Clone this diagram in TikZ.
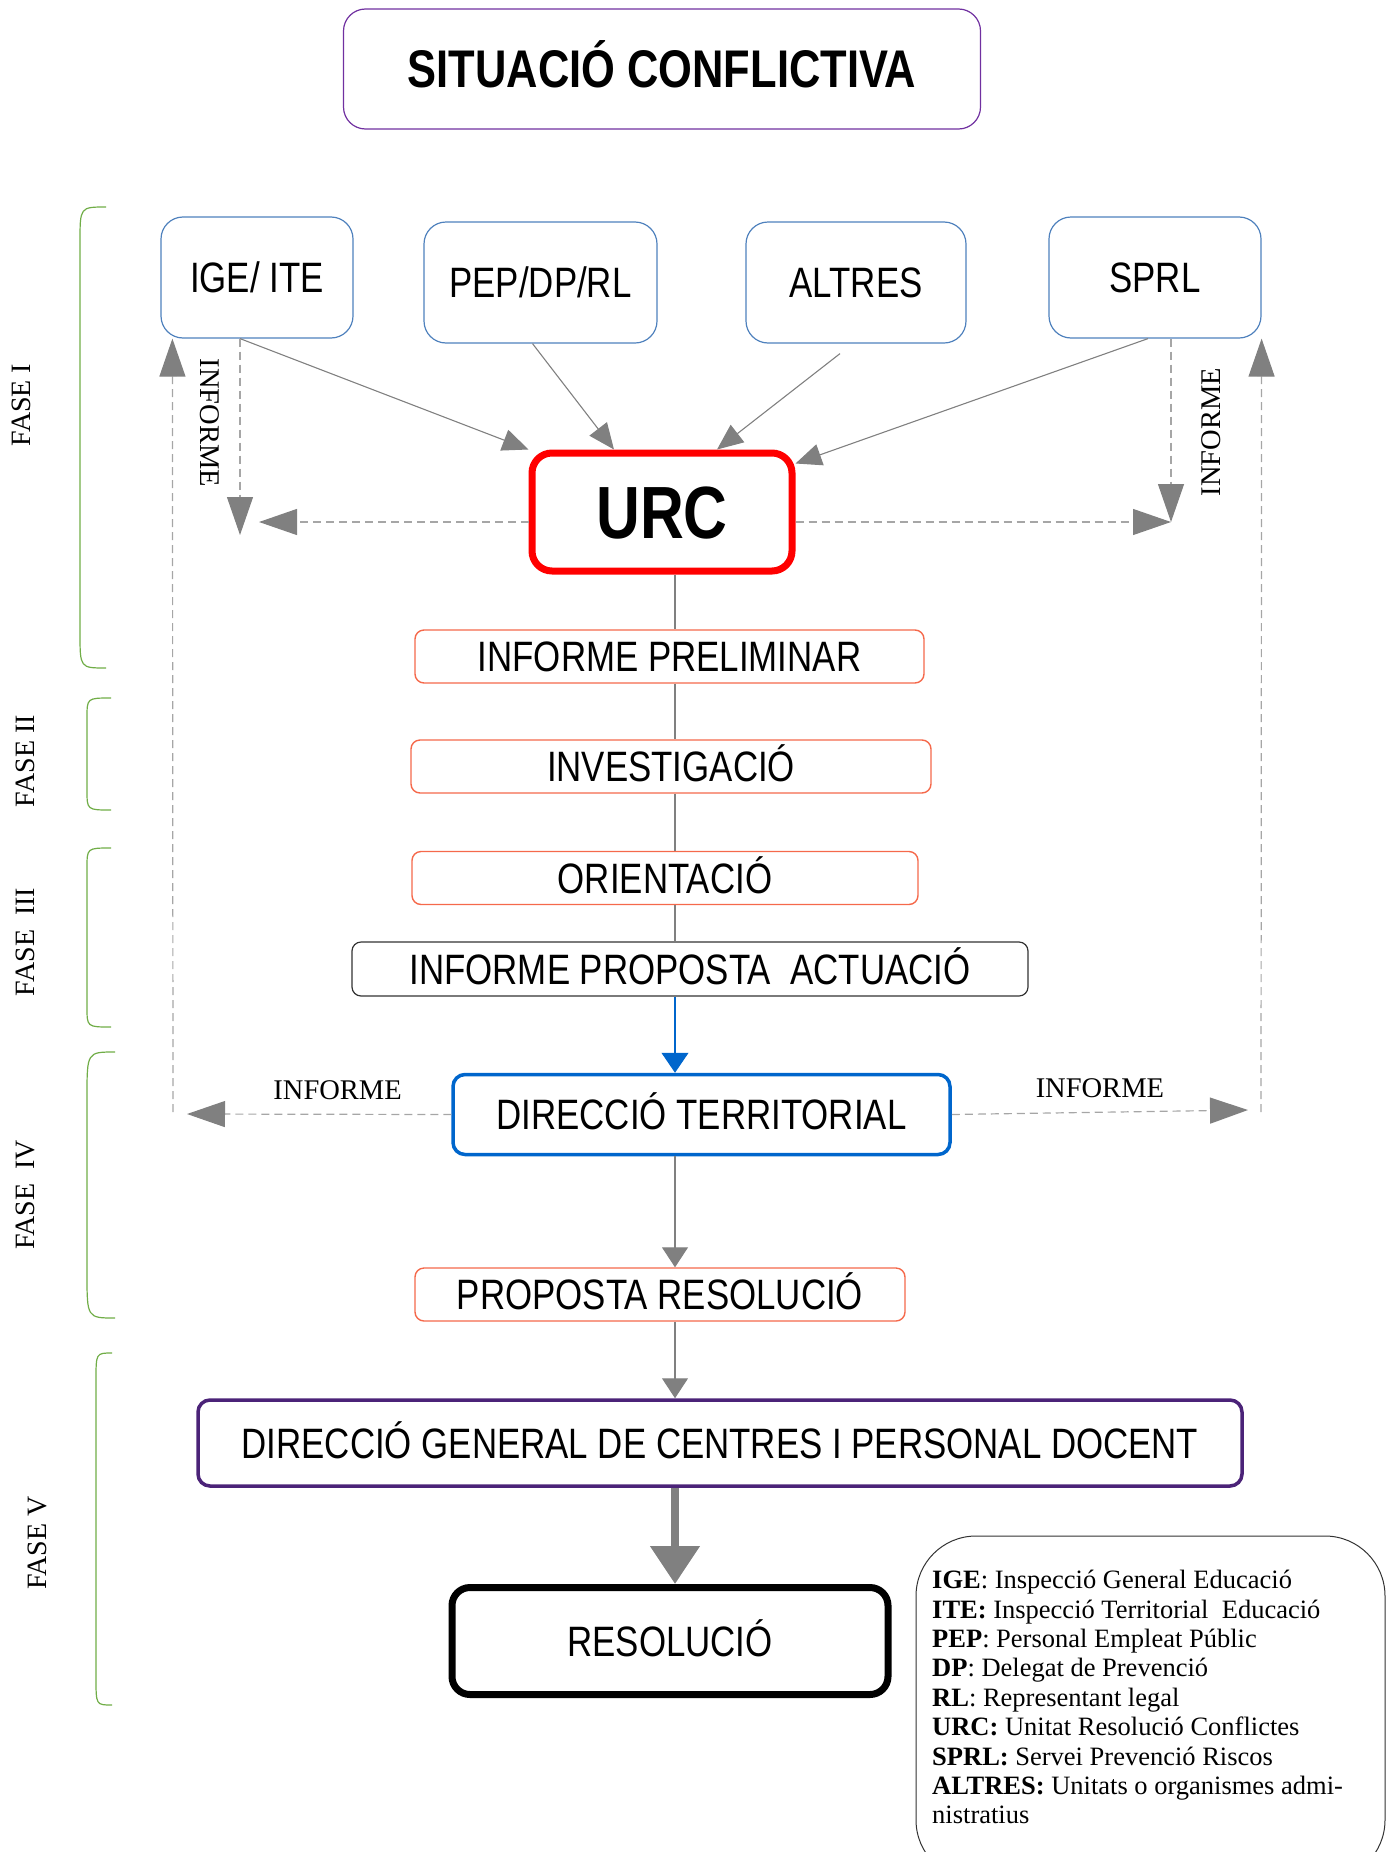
\documentclass[tikz,border=0pt]{standalone}
\usepackage{fontspec}
\setmainfont{Liberation Serif}
\newfontfamily\narrowsf[FakeStretch=0.82]{Liberation Sans}
\usetikzlibrary{arrows.meta}

\definecolor{boxblue}{RGB}{79,129,189}
\definecolor{boxorange}{RGB}{245,105,75}
\definecolor{boxpurple}{RGB}{112,48,160}
\definecolor{dgpurple}{RGB}{75,35,120}
\definecolor{dtblue}{RGB}{0,102,204}
\definecolor{phasegreen}{RGB}{112,173,71}
\definecolor{linkgray}{RGB}{128,128,128}

\tikzset{%
  every box/.style={
    rectangle,
    draw,
    inner sep=0pt,
    text height=30.4pt,
    text depth=0pt,
    font=\narrowsf\fontsize{42.5}{51}\selectfont
  },
  box title/.style={
    draw=boxpurple,
    line width=1.2pt,
    rounded corners=22pt,
    minimum height=120pt,
    text height=38pt,
    font=\narrowsf\bfseries\fontsize{53}{60}\selectfont
  },
  box source/.style={
    draw=boxblue,
    line width=1.2pt,
    rounded corners=22pt,
    minimum height=121pt
  },
  box urc/.style={
    draw=red,
    line width=7pt,
    rounded corners=20pt,
    minimum height=118pt,
    text height=53pt,
    font=\narrowsf\bfseries\fontsize{74}{80}\selectfont
  },
  box stage/.style={
    draw=boxorange,
    line width=1.4pt,
    rounded corners=9pt,
    minimum height=53pt
  },
  box plain/.style={
    draw=black!80,
    line width=1.2pt,
    rounded corners=9pt,
    minimum height=54pt
  },
  box territorial/.style={
    draw=dtblue,
    line width=3.5pt,
    rounded corners=12pt,
    minimum height=80pt
  },
  box general/.style={
    draw=dgpurple,
    line width=3.5pt,
    rounded corners=12pt,
    minimum height=86pt
  },
  box final/.style={
    draw=black,
    line width=7pt,
    rounded corners=18pt,
    minimum height=107pt
  },
  link/.style={draw=linkgray, line width=1.1pt},
  report/.style={
    draw=linkgray!70,
    line width=1.2pt,
    dash pattern=on 8pt off 5pt,
    -{Triangle[length=38pt,width=26pt,color=linkgray]}
  },
  report label/.style={
    inner sep=0pt,
    font=\fontsize{28.5}{34}\selectfont
  },
  phase brace/.style={draw=phasegreen, line width=1.2pt},
  phase label/.style={
    inner sep=0pt,
    rotate=90,
    font=\fontsize{28}{34}\selectfont
  },
}

\begin{document}
\begin{tikzpicture}[x=1pt, y=-1pt, >={Triangle[length=26pt,width=22pt]}]

\useasboundingbox (0,0) rectangle (1393,1852);
\clip (0,0) rectangle (1393,1852);

% TITLE
\node [every box, box title, minimum width=637pt] (title) at (662,69) {SITUACIÓ CONFLICTIVA};

% SOURCE boxes
\node [every box, box source, minimum width=192pt] (ige) at (257,277.5) {IGE/ ITE};
\node [every box, box source, minimum width=233pt] (pep) at (540.5,282.5) {PEP/DP/RL};
\node [every box, box source, minimum width=220pt] (altres) at (856,282.5) {ALTRES};
\node [every box, box source, minimum width=212pt] (sprl) at (1155,277.5) {SPRL};

% URC
\node [every box, box urc, minimum width=260pt] (urc) at (662,512) {URC};

% STAGE boxes
\foreach \m/\t/\x/\y/\w in {prel/INFORME PRELIMINAR/669.5/656.5/509pt,
                            inv/INVESTIGACIÓ/671/766.5/520pt,
                            ori/ORIENTACIÓ/665/878/506pt}
  \node [every box, box stage, minimum width=\w] (\m) at (\x,\y) {\t};

\node [every box, box plain, minimum width=676pt] (ipa) at (690,969) {INFORME PROPOSTA\ \ ACTUACIÓ};
\node [every box, box territorial, minimum width=497pt] (dt) at (701.5,1114.5) {DIRECCIÓ TERRITORIAL};
\node [every box, box stage, minimum width=490pt] (pr) at (660,1294.5) {PROPOSTA RESOLUCIÓ};
\node [every box, box general, minimum width=1044pt] (dg) at (720,1443) {DIRECCIÓ GENERAL DE CENTRES I PERSONAL DOCENT};
\node [every box, box final, minimum width=436pt] (res) at (670,1641) {RESOLUCIÓ};

% SOURCES -> URC
\draw [link, ->] ([xshift=-17pt]ige.south) -- (urc.north west);
\draw [link, ->] ([xshift=-8pt]pep.south) -- ([xshift=-48pt]urc.north);
\draw [link, ->] ([xshift=-16pt,yshift=-10pt]altres.south) -- ([xshift=55pt]urc.north);
\draw [link, ->] ([xshift=-7pt]sprl.south) -- ([yshift=-14pt]urc.north east);

% INFORME around URC
\coordinate (ige-in) at (240,535);
\coordinate (urc-out) at (259,522);
\coordinate (sprl-in) at (1171,522);
\draw [report] ([xshift=-17pt]ige.south) -- (ige-in);
\draw [report] ([yshift=-10pt]urc.west) -- (urc-out);
\draw [report] ([yshift=-10pt]urc.east) -- (sprl-in);
\draw [report] ([xshift=16pt]sprl.south) -- (sprl-in);
\node [report label, rotate=-90] (inf-ige) at (210,423) {INFORME};
\node [report label, rotate=90] (inf-sprl) at (1211,432) {INFORME};

% SPINE
\coordinate (spine) at (675,0);
\foreach \a/\b in {urc/prel, prel/inv, inv/ori, ori/ipa}
  \draw [link] (\a.south -| spine) -- (\b.north -| spine);
\draw [draw=dtblue, line width=1.1pt, -{Triangle[length=20pt,width=27pt,color=dtblue]}]
  (ipa.south -| spine) -- (dt.north -| spine);
\foreach \a/\b in {dt/pr, pr/dg}
  \draw [link, -{Triangle[length=20pt,width=26pt]}] (\a.south -| spine) -- (\b.north -| spine);
\draw [link, line width=8pt, -{Triangle[length=38pt,width=48pt]}] (dg.south -| spine) -- (res.north -| spine);

% INFORME from DT
\coordinate (dt-l) at (187,1114);
\coordinate (dt-r) at (1248,1110);
\coordinate (up-l) at (173,1112);
\coordinate (up-r) at (1261,1112);
\draw [report] (dt.west) -- (dt-l)
  node [report label, pos=0.43, above=14pt] (inf-l) {INFORME};
\draw [report] (dt.east) -- (dt-r)
  node [report label, midway, above=14pt] (inf-r) {INFORME};
\draw [report] (up-l) -- ([xshift=12pt]ige.south west);
\draw [report] (up-r) -- (sprl.south east);

% PHASE braces
\foreach \x/\t/\b/\r/\c in {80/207/668/106/35, 87/698/810/111/20, 87/848/1027/111/20,
                            87/1052/1318/115/45, 96/1353/1705/112/27}
  \draw [phase brace] (\r,\t) .. controls (\x,\t) .. (\x,\t+\c)
    -- (\x,\b-\c) .. controls (\x,\b) .. (\r,\b);

% PHASE labels
\foreach \l/\x/\y [count=\i] in {FASE I/21/405, FASE II/25/761, {FASE\ \ III}/25/942,
                                 {FASE\ \ IV}/25/1195, FASE V/37/1543}
  \node [phase label] (fase-\i) at (\x,\y) {\l};

% LEGEND
\draw [line width=1pt, draw=black!80, rounded corners=60pt] (916,1536) rectangle (1385,1880);
\node [anchor=north west, inner sep=0pt, align=left,
       font=\fontsize{26.5}{29.4}\selectfont] (legend) at (932,1570)
  {\textbf{IGE}: Inspecció General Educació\\
   \textbf{ITE:} Inspecció Territorial\ \ Educació\\
   \textbf{PEP}: Personal Empleat Públic\\
   \textbf{DP}: Delegat de Prevenció\\
   \textbf{RL}: Representant legal\\
   \textbf{URC:} Unitat Resolució Conflictes\\
   \textbf{SPRL:} Servei Prevenció Riscos\\
   \textbf{ALTRES:} Unitats o organismes admi-\\
   nistratius};

\end{tikzpicture}
\end{document}
